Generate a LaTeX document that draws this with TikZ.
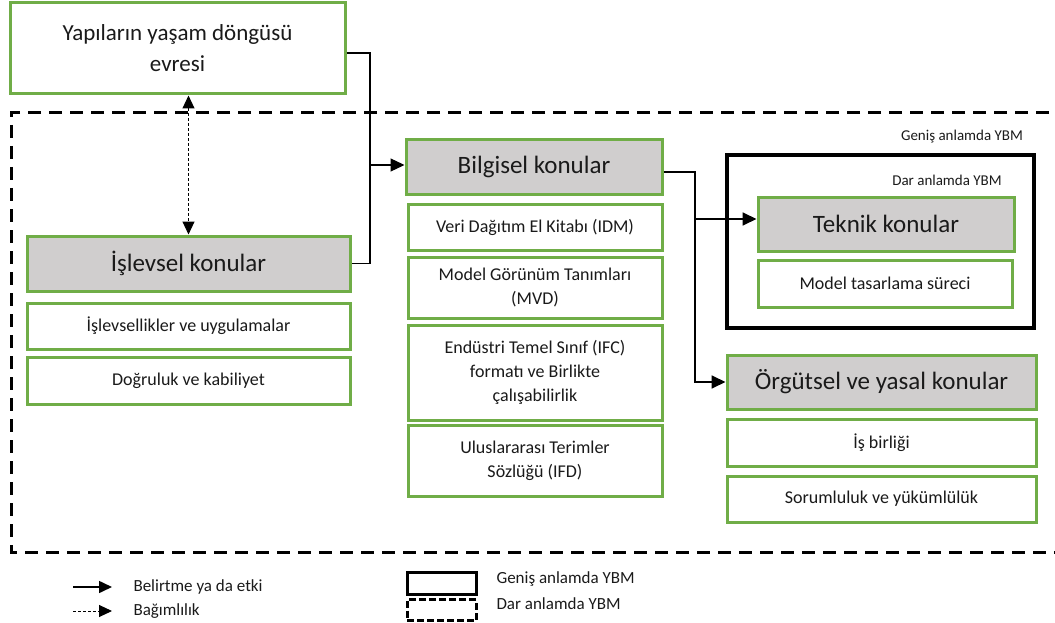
\documentclass[tikz,border=0pt]{standalone}
\usepackage{fontspec}
\setmainfont{Carlito}
\usetikzlibrary{arrows.meta}
\definecolor{boxgreen}{HTML}{70AD47}
\definecolor{boxgray}{HTML}{D0CECE}
\definecolor{inktext}{HTML}{1A1A1A}

\begin{document}
\begin{tikzpicture}[x=1pt,y=-1pt,
  every node/.style={text=inktext},
  greenbox/.style={draw=boxgreen, line width=3pt, inner sep=2pt, align=center},
  topicbox/.style={greenbox, fill=boxgray, font=\fontsize{25}{30}\selectfont},
  itembox/.style={greenbox, fill=white, font=\fontsize{18}{24}\selectfont},
  link/.style={line width=1.8pt},
  tip/.style={-{Triangle[length=14pt,width=13pt]}},
  depend/.style={line width=1pt, dash pattern=on 3pt off 2pt,
    {Triangle[length=13pt,width=12pt]}-{Triangle[length=13pt,width=12pt]}},
  scopeline/.style={line width=3pt, dash pattern=on 13pt off 8pt},
  legendtext/.style={anchor=west, font=\fontsize{17}{20}\selectfont},
  ybmlabel/.style={font=\fontsize{15}{18}\selectfont}
]
\useasboundingbox (0,0) rectangle (1055,623);

% outer dashed frame: BIM in the narrow sense
\draw[scopeline] (1070,113) -- (11,113) -- (11,552) -- (1070,552);

% life cycle phase
\node[greenbox, fill=white, minimum width=335pt, minimum height=91pt,
  font=\fontsize{23}{31}\selectfont] (life) at (177.5,48.5)
  {Yapıların yaşam döngüsü\\evresi};

% functional topics
\node[topicbox, minimum width=323pt, minimum height=55pt] (func) at (188.5,263.5) {İşlevsel konular};
\node[itembox, minimum width=323pt, minimum height=46pt] (func1) at (188.5,326) {İşlevsellikler ve uygulamalar};
\node[itembox, minimum width=323pt, minimum height=47pt] (func2) at (188.5,380.5) {Doğruluk ve kabiliyet};

% information topics
\node[topicbox, minimum width=256pt, minimum height=54pt] (info) at (534,167) {Bilgisel konular};
\node[itembox, minimum width=254pt, minimum height=46pt] (info1) at (535,227) {Veri Dağıtım El Kitabı (IDM)};
\node[itembox, minimum width=254pt, minimum height=61pt] (info2) at (535,287.5) {Model Görünüm Tanımları\\(MVD)};
\node[itembox, minimum width=254pt, minimum height=95pt] (info3) at (535,372.5) {Endüstri Temel Sınıf (IFC)\\formatı ve Birlikte\\çalışabilirlik};
\node[itembox, minimum width=254pt, minimum height=71pt] (info4) at (535,460.5) {Uluslararası Terimler\\Sözlüğü (IFD)};

% broad-sense BIM frame with technical topics
\node[draw=black, line width=3.5pt, minimum width=307pt, minimum height=173pt, inner sep=0pt] (broad) at (880.5,241.5) {};
\node[ybmlabel] (broadlbl) at (962,137) {Geniş anlamda YBM};
\node[ybmlabel] (narrowlbl) at (947,180) {Dar anlamda YBM};
\node[topicbox, minimum width=256pt, minimum height=54pt] (tech) at (886,224) {Teknik konular};
\node[itembox, minimum width=254pt, minimum height=47pt] (tech1) at (885,283.5) {Model tasarlama süreci};

% organisational and legal topics
\node[topicbox, minimum width=309pt, minimum height=54pt] (org) at (881.5,382) {Örgütsel ve yasal konular};
\node[itembox, minimum width=309pt, minimum height=47pt] (org1) at (881.5,442.5) {İş birliği};
\node[itembox, minimum width=309pt, minimum height=46pt] (org2) at (881.5,499) {Sorumluluk ve yükümlülük};

% connectors
\coordinate (busA) at (370,0);
\coordinate (busB) at (695,0);
\draw[link] ([yshift=-4.5pt]life.east) -- ([yshift=-4.5pt]life.east -| busA) -- (func.east -| busA) -- (func.east);
\draw[link, line width=1.2pt, tip] ([yshift=2pt]info.west -| busA) -- ([yshift=2pt]info.west);
\draw[link, tip] ([yshift=-5pt]info.east) -- ([yshift=-5pt]info.east -| busB) -- (org.west -| busB) -- (org.west);
\draw[link, tip] ([yshift=5pt]tech.west -| busB) -- ([yshift=5pt]tech.west);
\draw[depend] (func.north |- life.south) -- (func.north);

% legend
\coordinate (la1) at (73,587);
\coordinate (la2) at (112,587);
\coordinate (lb1) at (73,611);
\coordinate (lb2) at (112,611);
\draw[line width=1.6pt, -{Triangle[length=13pt,width=12pt]}] (la1) -- (la2);
\draw[line width=1pt, dash pattern=on 3pt off 2pt, -{Triangle[length=13pt,width=12pt]}] (lb1) -- (lb2);
\node[legendtext] (lgA) at (130,587) {Belirtme ya da etki};
\node[legendtext] (lgB) at (130,611) {Bağımlılık};
\node[draw=black, line width=3pt, minimum width=69pt, minimum height=22pt, inner sep=0pt] (lgR1) at (441.5,583) {};
\node[draw=black, line width=3pt, dash pattern=on 7pt off 3pt, minimum width=69pt, minimum height=21pt, inner sep=0pt] (lgR2) at (441.5,610) {};
\node[legendtext] (lgC) at (493,579) {Geniş anlamda YBM};
\node[legendtext] (lgD) at (493,604) {Dar anlamda YBM};
\end{tikzpicture}
\end{document}
